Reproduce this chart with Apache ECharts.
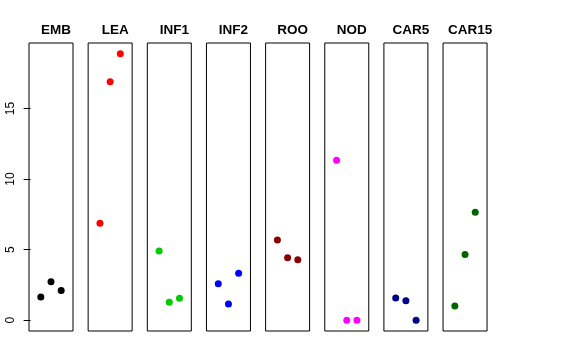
<!DOCTYPE html>
<html>
<head>
<meta charset="utf-8">
<script src="https://cdn.jsdelivr.net/npm/echarts@6/dist/echarts.min.js"></script>
<style>html,body{margin:0;padding:0;background:#fff;}#c{width:576px;height:360px;}</style>
</head>
<body>
<div id="c"></div>
<script>
const categories = ["EMB", "LEA", "INF1", "INF2", "ROO", "NOD", "CAR5", "CAR15"];
const xPositions = [1, 2, 3];
const EMB = [1.65, 2.73, 2.10];
const LEA = [6.87, 16.9, 18.88];
const INF1 = [4.91, 1.27, 1.56];
const INF2 = [2.59, 1.15, 3.33];
const ROO = [5.69, 4.43, 4.29];
const NOD = [11.33, 0, 0];
const CAR5 = [1.58, 1.39, 0];
const CAR15 = [1.01, 4.65, 7.65];
const yTickLabels = [0, 5, 10, 15];

const seriesValues = [EMB, LEA, INF1, INF2, ROO, NOD, CAR5, CAR15];
const colors = ["#000000", "#FF0000", "#00CD00", "#0000FF", "#8B0000", "#FF00FF", "#00008B", "#006400"];

const panelLeft = 29, panelStep = 59.15, panelW = 44, panelTop = 43, panelH = 288;
const yMin = -0.76, yMax = 19.64;

const grids = [], xAxes = [], yAxes = [], series = [], titles = [];
categories.forEach((cat, i) => {
  const left = panelLeft + i * panelStep;
  grids.push({left: left, top: panelTop, width: panelW, height: panelH, show: true, borderColor: '#000', borderWidth: 1, backgroundColor: 'transparent'});
  xAxes.push({type: 'value', gridIndex: i, min: -0.16, max: 4.16, show: false});
  const first = i === 0;
  yAxes.push({
    type: 'value', gridIndex: i, min: yMin, max: yMax, show: first,
    splitLine: {show: false},
    axisLine: {show: false},
    axisTick: {show: first, length: 7, inside: false, lineStyle: {color: '#000', width: 1}, customValues: yTickLabels},
    axisLabel: {show: first, rotate: 90, margin: 12, color: '#000', opacity: 1, fontSize: 12, fontFamily: 'Liberation Sans, Arial, sans-serif', customValues: yTickLabels}
  });
  series.push({
    type: 'scatter', xAxisIndex: i, yAxisIndex: i, symbol: 'circle', symbolSize: 7,
    itemStyle: {color: colors[i], opacity: 1},
    data: xPositions.map((x, j) => [x, seriesValues[i][j]]),
    silent: true, animation: false
  });
  titles.push({
    text: cat, left: left + panelW / 2, top: 18, textAlign: 'center',
    textStyle: {fontSize: 13.5, fontWeight: 'bold', color: '#000', fontFamily: 'Liberation Sans, Arial, sans-serif'}
  });
});

const chart = echarts.init(document.getElementById('c'), null, {renderer: 'canvas'});
chart.setOption({
  animation: false,
  backgroundColor: '#fff',
  title: titles,
  grid: grids,
  xAxis: xAxes,
  yAxis: yAxes,
  series: series
});
</script>
</body>
</html>
